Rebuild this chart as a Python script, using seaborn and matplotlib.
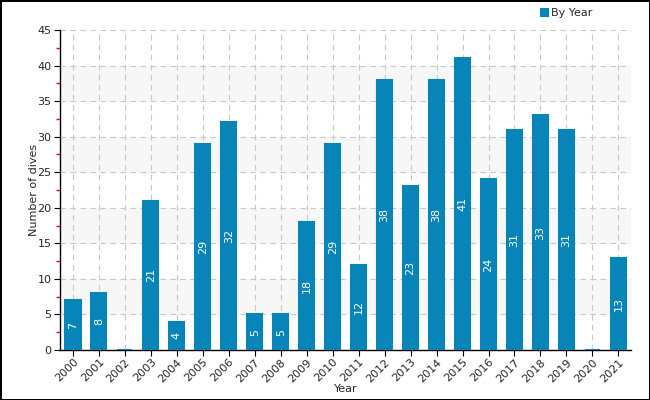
import numpy as np
import pandas as pd
import matplotlib
matplotlib.use('Agg')
import matplotlib.pyplot as plt
import seaborn as sns
from matplotlib.ticker import MultipleLocator

# Data
years = [str(y) for y in range(2000, 2022)]
dives = [7, 8, 0, 21, 4, 29, 32, 5, 5, 18, 29, 12, 38, 23, 38, 41, 24, 31, 33, 31, 0, 13]

df = pd.DataFrame({'Year': years, 'Number of dives': dives})

sns.set_style('white')
plt.rcParams['font.family'] = ['DejaVu Sans']

bar_color = '#0785b8'

fig = plt.figure(figsize=(6.5, 4), dpi=100)
fig.patch.set_edgecolor('black')
fig.patch.set_linewidth(2)
ax = fig.add_axes([0.0923, 0.125, 0.879, 0.8])

# alternating background bands
for lo in range(5, 45, 10):
    ax.axhspan(lo, lo + 5, color='#f7f7f7', zorder=0)

sns.barplot(data=df, x='Year', y='Number of dives', color=bar_color,
            width=0.58, saturation=1, ax=ax, zorder=3,
            edgecolor=bar_color, linewidth=1.5, label='By Year')

# value labels inside bars
for i, v in enumerate(dives):
    ax.text(i, v / 2 if v > 0 else 0.8, str(v), rotation=90, color='white',
            ha='center', va='center', fontsize=8, zorder=4,
            alpha=1 if v > 0 else 0.5)

ax.set_ylim(0, 45)
ax.set_xlim(-0.5, len(years) - 0.5)
ax.yaxis.set_major_locator(MultipleLocator(5))
ax.yaxis.set_minor_locator(MultipleLocator(2.5))
ax.grid(True, axis='both', which='major', linestyle=(0, (5, 4)),
        color='#c8c8c8', linewidth=0.8, zorder=1)
ax.set_axisbelow(True)

for s in ['top', 'right']:
    ax.spines[s].set_visible(False)
for s in ['left', 'bottom']:
    ax.spines[s].set_color('black')
    ax.spines[s].set_linewidth(1)

ax.tick_params(axis='y', which='major', length=4, color='black', left=True,
               labelsize=8, pad=2)
ax.tick_params(axis='y', which='minor', length=3, width=1, color='red', left=True)
ax.tick_params(axis='x', which='major', length=4, color='black', bottom=True,
               labelsize=8, pad=1)
for lbl in ax.get_xticklabels():
    lbl.set_rotation(45)
    lbl.set_ha('right')
    lbl.set_rotation_mode('anchor')

ax.set_xlabel('Year', fontsize=8, labelpad=0)
ax.set_ylabel('Number of dives', fontsize=8, labelpad=-1)

ax.legend(loc='upper right', bbox_to_anchor=(0.95, 1.1), frameon=False,
          fontsize=8, handlelength=0.6, handleheight=0.6, handletextpad=0.3)

fig.savefig('out.png', dpi=100, edgecolor=fig.get_edgecolor())
